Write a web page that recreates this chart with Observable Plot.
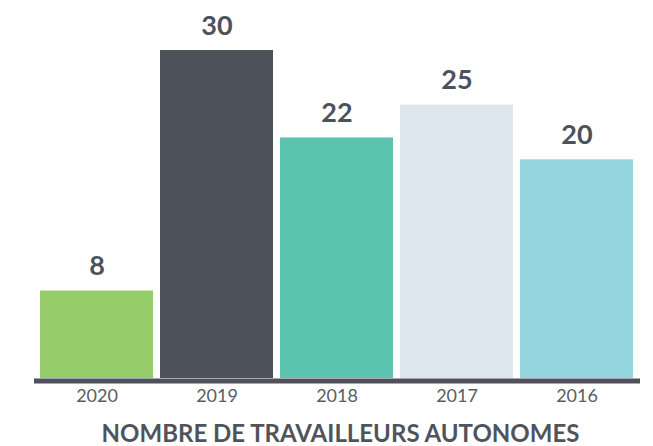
<!DOCTYPE html>
<html>
<head>
<meta charset="utf-8">
<script src="https://cdn.jsdelivr.net/npm/d3@7"></script>
<script src="https://cdn.jsdelivr.net/npm/@observablehq/plot@0.6"></script>
<style>
  html, body { margin: 0; padding: 0; background: #fff; }
  #chart { width: 653px; height: 446px; position: relative; }
  #title { position: absolute; left: 0; top: 418px; width: 653px; text-align: center; padding-left: 28px; box-sizing: border-box;
    font-family: Lato, sans-serif; font-weight: 700; font-size: 24px; color: #4f545b; letter-spacing: 0px; }
</style>
</head>
<body>
<div id="chart"></div>
<script>
const years = ["2020", "2019", "2018", "2017", "2016"];
const values = [8, 30, 22, 25, 20];
const colors = ["#96cc6a", "#4d525a", "#5bc3ae", "#dce6ec", "#93d6de"];
const title = "NOMBRE DE TRAVAILLEURS AUTONOMES";

const data = years.map((y, i) => ({year: y, value: values[i], color: colors[i]}));

const plot = Plot.plot({
  width: 653,
  height: 410,
  marginTop: 50,
  marginBottom: 32,
  marginLeft: 39,
  marginRight: 18,
  style: {fontFamily: "Lato, sans-serif", background: "transparent"},
  x: {domain: years, paddingInner: 0.055, paddingOuter: 0, axis: null},
  y: {domain: [0, 30], axis: null},
  marks: [
    Plot.barY(data, {x: "year", y: "value", fill: "color"}),
    Plot.ruleY([0], {stroke: "#4d525a", strokeWidth: 5, dy: 2.5, insetLeft: -5, insetRight: -5}),
    Plot.text(data, {x: "year", y: "value", text: d => String(d.value), dy: -16,
      lineAnchor: "bottom", fontSize: 27, fontWeight: 700, fill: "#4d525a"}),
    Plot.axisX({domain: years, tickSize: 0, tickPadding: 11, fontSize: 18, color: "#585d63", label: null})
  ]
});
document.getElementById("chart").appendChild(plot);
const t = document.createElement("div");
t.id = "title";
t.textContent = title;
document.getElementById("chart").appendChild(t);
</script>
</body>
</html>
